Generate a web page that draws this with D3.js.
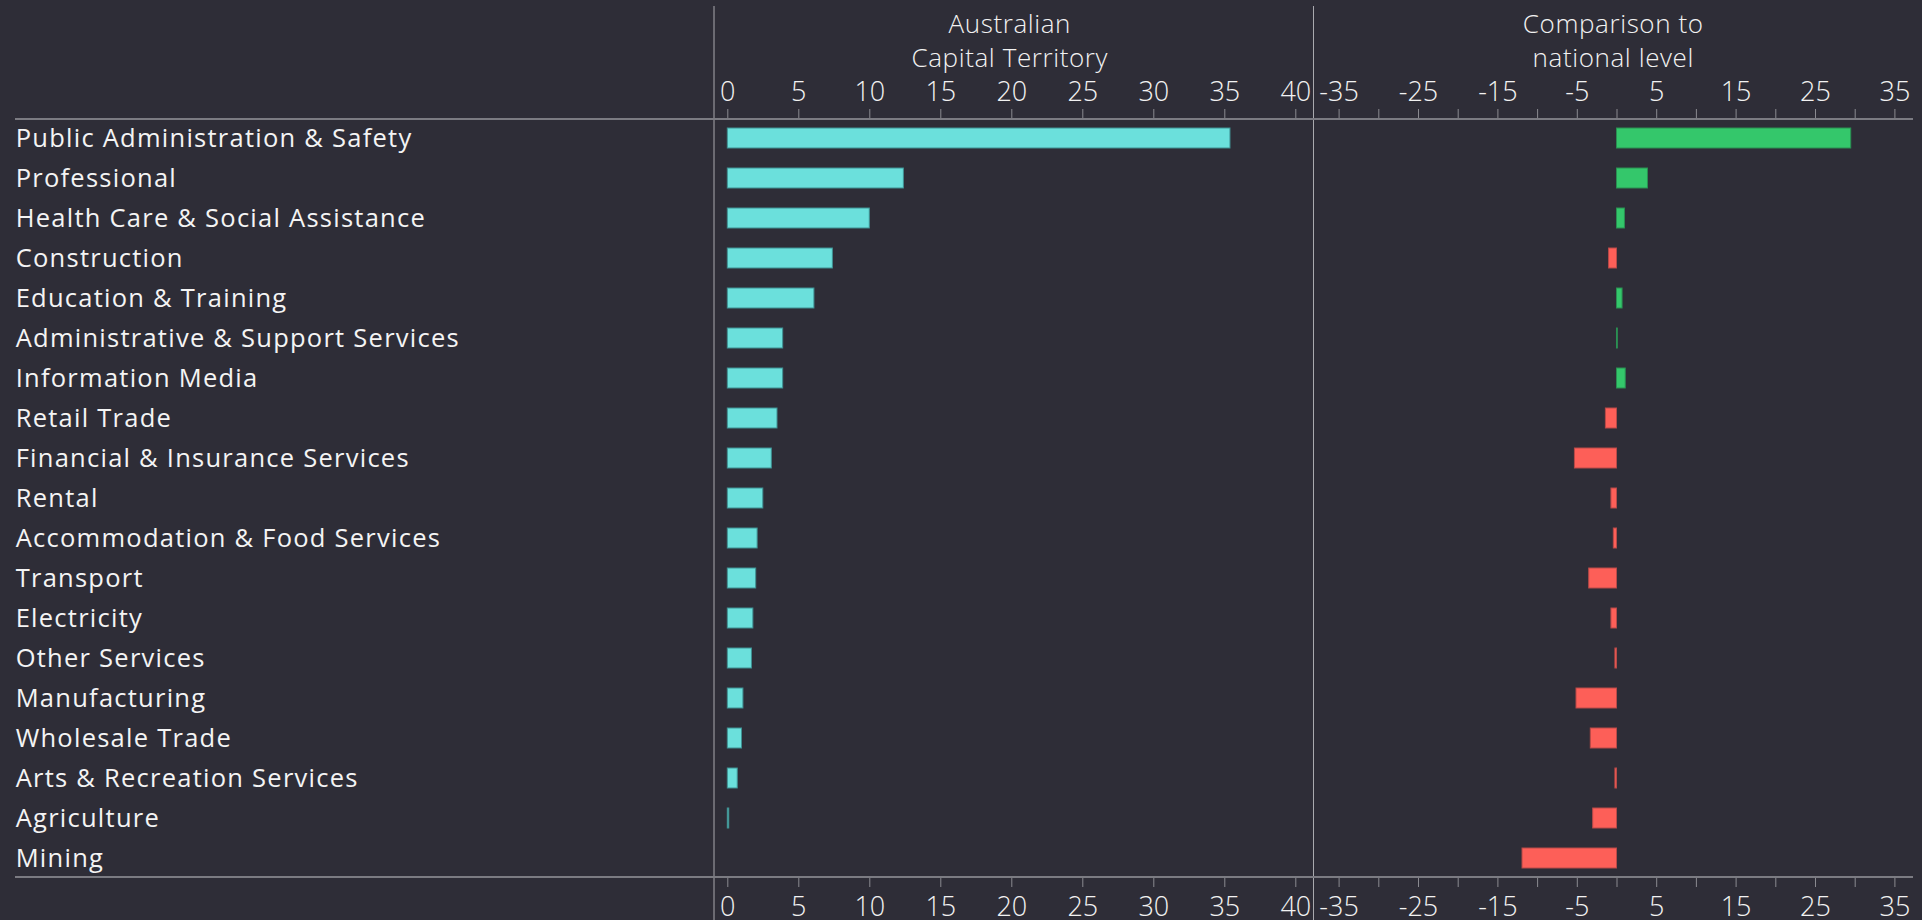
<!DOCTYPE html>
<meta charset="utf-8">
<html>
<head>
  <title>ACT industries</title>
  <script src="https://d3js.org/d3.v7.min.js"></script>
  <style>
    html, body { margin: 0; padding: 0; background: #2e2d37; }
    svg { display: block; }
  </style>
</head>
<body>
<div id="chart"></div>
<script>
// industries, top to bottom
var industries = [
  "Public Administration & Safety", "Professional", "Health Care & Social Assistance",
  "Construction", "Education & Training", "Administrative & Support Services",
  "Information Media", "Retail Trade", "Financial & Insurance Services", "Rental",
  "Accommodation & Food Services", "Transport", "Electricity", "Other Services",
  "Manufacturing", "Wholesale Trade", "Arts & Recreation Services", "Agriculture", "Mining"
];
// share of employment in the ACT (%)
var actShare = [35.4, 12.4, 10.0, 7.4, 6.1, 3.9, 3.9, 3.5, 3.1, 2.5, 2.1, 2.0, 1.8, 1.7, 1.1, 1.0, 0.7, 0.1, 0.0];
// difference to the national level (percentage points)
var nationalDiff = [29.5, 3.9, 1.0, -1.0, 0.7, 0.1, 1.1, -1.4, -5.3, -0.7, -0.4, -3.5, -0.7, -0.2, -5.1, -3.3, -0.2, -3.0, -11.9];

var leftTicks = [0, 5, 10, 15, 20, 25, 30, 35, 40];
var rightTicks = [-35, -30, -25, -20, -15, -10, -5, 0, 5, 10, 15, 20, 25, 30, 35];
var rightLabels = [-35, -25, -15, -5, 5, 15, 25, 35];

var width = 1922, height = 920;
var axisTop = 119, axisBottom = 877;
var dividerL = 714, dividerR = 1313.5, rightEdge = 1913;

var tickFont = "'Open Sans', sans-serif";
var labelFont = "'Open Sans', sans-serif";

var svg = d3.select("#chart").append("svg")
  .attr("width", width).attr("height", height);

svg.append("rect").attr("width", width).attr("height", height).attr("fill", "#2e2d37");

// scales
var y = d3.scaleBand().domain(industries).range([118, 878]).paddingInner(0.5).paddingOuter(0.25);
var xL = d3.scaleLinear().domain([0, 40]).range([727.3, 1295.3]);
var xR = d3.scaleLinear().domain([-35, 35]).range([1338.6, 1894.4]);

// divider lines
svg.selectAll(".divider").data([dividerL, dividerR]).enter().append("line")
  .attr("x1", function(d) { return d; }).attr("x2", function(d) { return d; })
  .attr("y1", 6).attr("y2", height)
  .attr("stroke", "#a9a9ae").attr("stroke-width", 1);

// titles
function title(lines, cx) {
  var t = svg.append("text")
    .attr("text-anchor", "middle")
    .style("font-family", tickFont).style("font-weight", 300)
    .style("font-size", "26px").style("letter-spacing", "0.6px").attr("fill", "#f2f2f2");
  lines.forEach(function(l, i) {
    t.append("tspan").attr("x", cx).attr("y", 33.3 + i * 33.4).text(l);
  });
}
title(["Australian", "Capital Territory"], (xL(0) + xL(40)) / 2 - 1.5);
title(["Comparison to", "national level"], (dividerR + rightEdge) / 2);

// axes
function styleAxis(g) {
  g.select(".domain").remove();
  g.selectAll(".tick line").attr("stroke", "#8a8a90").attr("stroke-width", 1);
  g.selectAll(".tick text")
    .attr("fill", "#f2f2f2")
    .style("font-family", tickFont).style("font-weight", 300).style("font-size", "27px");
}
var fmt = function(d) { return rightLabels.indexOf(d) >= 0 ? d : ""; };

svg.append("g").attr("transform", "translate(0," + axisTop + ")")
  .call(d3.axisTop(xL).tickValues(leftTicks).tickSize(10).tickPadding(7.6))
  .call(styleAxis);
svg.append("g").attr("transform", "translate(0," + axisTop + ")")
  .call(d3.axisTop(xR).tickValues(rightTicks).tickFormat(fmt).tickSize(10).tickPadding(7.6))
  .call(styleAxis);
svg.append("g").attr("transform", "translate(0," + axisBottom + ")")
  .call(d3.axisBottom(xL).tickValues(leftTicks).tickSize(10).tickPadding(10))
  .call(styleAxis);
svg.append("g").attr("transform", "translate(0," + axisBottom + ")")
  .call(d3.axisBottom(xR).tickValues(rightTicks).tickFormat(fmt).tickSize(10).tickPadding(10))
  .call(styleAxis);

// long horizontal rules
svg.selectAll(".rule").data([axisTop, axisBottom]).enter().append("line")
  .attr("x1", 15).attr("x2", rightEdge)
  .attr("y1", function(d) { return d; }).attr("y2", function(d) { return d; })
  .attr("stroke", "#7b7b82").attr("stroke-width", 2);

// row labels
svg.selectAll(".rowlabel").data(industries).enter().append("text")
  .attr("x", 15.7)
  .attr("y", function(d) { return y(d) + y.bandwidth() / 2; })
  .attr("dy", "0.35em")
  .attr("fill", "#f4f4f4")
  .style("font-family", labelFont).style("font-size", "25.5px").style("letter-spacing", "1.25px")
  .text(function(d) { return d; });

// left bars
svg.selectAll(".barL").data(actShare).enter().append("rect")
  .attr("x", xL(0))
  .attr("y", function(d, i) { return y(industries[i]); })
  .attr("width", function(d) { return xL(d) - xL(0); })
  .attr("height", y.bandwidth())
  .attr("fill", "#6be0dc").attr("stroke", "#3f9193").attr("stroke-width", 1);

// right bars
svg.selectAll(".barR").data(nationalDiff).enter().append("rect")
  .attr("x", function(d) { return Math.min(xR(0), xR(d)); })
  .attr("y", function(d, i) { return y(industries[i]); })
  .attr("width", function(d) { return Math.abs(xR(d) - xR(0)); })
  .attr("height", y.bandwidth())
  .attr("fill", function(d) { return d >= 0 ? "#34c76b" : "#fd5f58"; })
  .attr("stroke", function(d) { return d >= 0 ? "#2a8f52" : "#b84a48"; })
  .attr("stroke-width", 1);
</script>
</body>
</html>
